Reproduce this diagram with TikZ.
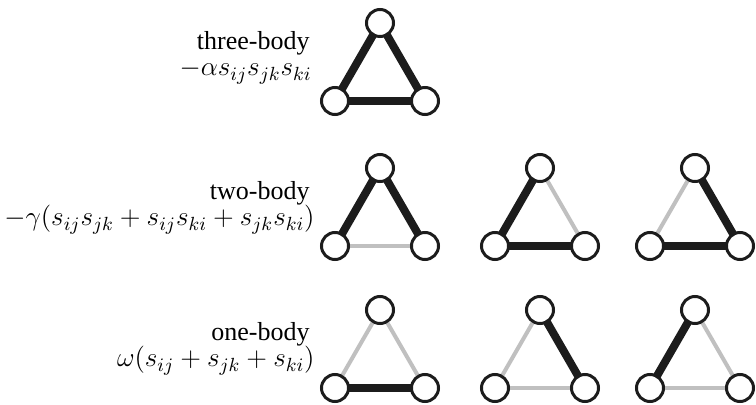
\RequirePackage{fix-cm}
\documentclass[tikz,border=0pt]{standalone}
\usepackage{fontspec}
\setmainfont{Liberation Serif}
\usepackage{tikz}
\usetikzlibrary{positioning, backgrounds}

\definecolor{weakgray}{RGB}{192,192,192}
\definecolor{strongblack}{RGB}{28,28,28}

% one triangle of spins: #1 name, #2 top position, #3 top-left, #4 top-right, #5 bottom edge
\newcommand{\triad}[5]{%
  \begin{scope}[shift={#2}]
    \node[spin] (#1t) at (0,0) {};
    \node[spin] (#1l) at (-45,78) {};
    \node[spin] (#1r) at (45,78) {};
    \begin{pgfonlayer}{background}
      \draw[#3] (#1t.center) -- (#1l.center);
      \draw[#4] (#1t.center) -- (#1r.center);
      \draw[#5] (#1l.center) -- (#1r.center);
    \end{pgfonlayer}
  \end{scope}}

\begin{document}
\begin{tikzpicture}[
    x=0.5pt, y=-0.5pt,
    font=\fontsize{13}{15}\selectfont,
    spin/.style={circle, draw=strongblack, fill=white, line width=1.5pt, minimum size=13.5pt, inner sep=0pt},
    strong/.style={line width=4pt, draw=strongblack},
    weak/.style={line width=2pt, draw=weakgray},
    term/.style={anchor=base east, inner sep=0pt},
    energy/.style={term, font=\fontsize{13.6}{16}\selectfont}
]
\useasboundingbox (0,0) rectangle (756,405);

% --- three-body ---
\node[term] (name3) at (310,50) {three-body};
\node[energy] (eq3) at (312,76) {$-\alpha s_{ij}s_{jk}s_{ki}$};
\triad{a}{(380,23)}{strong}{strong}{strong}

% --- two-body ---
\node[term] (name2) at (310,200) {two-body};
\node[energy] (eq2) at (315,226) {$-\gamma(s_{ij}s_{jk}+s_{ij}s_{ki}+s_{jk}s_{ki})$};
\triad{b}{(380,168)}{strong}{strong}{weak}
\triad{c}{(540,168)}{strong}{weak}{strong}
\triad{d}{(695,168)}{weak}{strong}{strong}

% --- one-body ---
\node[term] (name1) at (310,341) {one-body};
\node[energy] (eq1) at (315,367) {$\omega(s_{ij}+s_{jk}+s_{ki})$};
\triad{e}{(380,310)}{weak}{weak}{strong}
\triad{f}{(540,310)}{weak}{strong}{weak}
\triad{g}{(695,310)}{strong}{weak}{weak}

\end{tikzpicture}
\end{document}
